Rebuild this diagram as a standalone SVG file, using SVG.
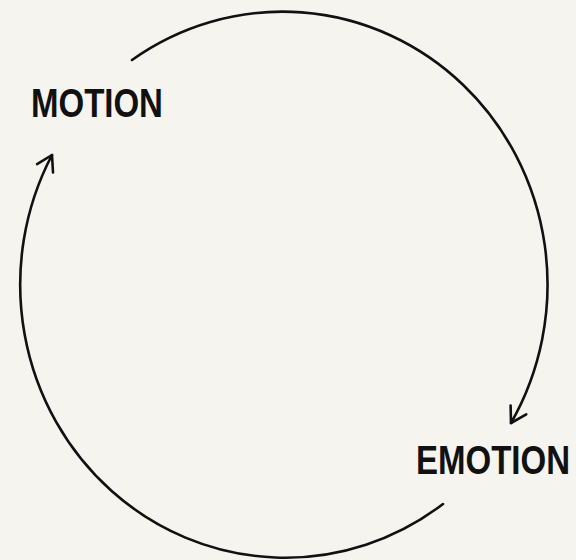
<svg xmlns="http://www.w3.org/2000/svg" width="576" height="560" viewBox="0 0 576 560">
  <style>
    .lbl { font-family: "Liberation Sans", "DejaVu Sans", sans-serif; font-weight: 700; font-size: 33px; fill: #111111; }
    .arc { fill: none; stroke: #111111; stroke-width: 2.6; stroke-linecap: round; }
  </style>
  <defs>
    <marker id="chev" markerUnits="userSpaceOnUse" markerWidth="40" markerHeight="40" refX="0" refY="0" viewBox="-20 -20 40 40" orient="auto" overflow="visible">
      <path d="M-15,-9 L0,0 L-15,9" fill="none" stroke="#111111" stroke-width="2.6" stroke-linecap="round" stroke-linejoin="round"/>
    </marker>
  </defs>
  <rect width="576" height="560" fill="#f6f4ef"/>
  <g id="connectors">
    <path id="c1" class="arc" d="M132,60 A265,273 0 0 1 511,423" marker-end="url(#chev)"/>
    <path id="c2" class="arc" d="M443,504 A265,273 0 0 1 52,155" marker-end="url(#chev)"/>
  </g>
  <g id="motion">
    <text class="lbl" transform="translate(31,117) scale(1,1.25)" x="0" y="0">MOTION</text>
  </g>
  <g id="emotion">
    <text class="lbl" transform="translate(416,474) scale(1,1.25)" x="0" y="0">EMOTION</text>
  </g>
</svg>
